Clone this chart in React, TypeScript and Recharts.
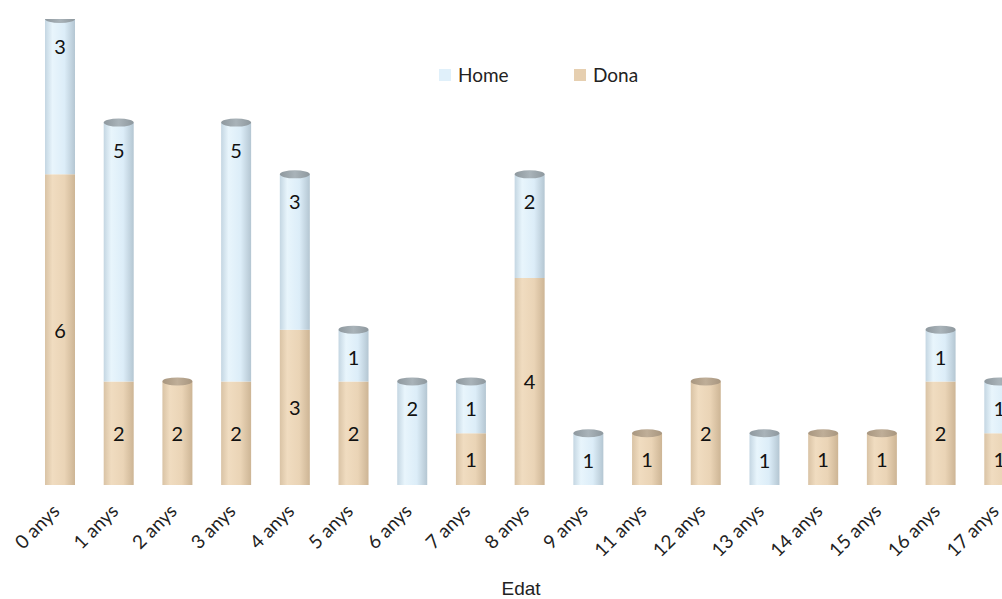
import { BarChart, Bar, XAxis, YAxis, LabelList, Legend, Label } from 'recharts';

const categories = ['0 anys', '1 anys', '2 anys', '3 anys', '4 anys', '5 anys', '6 anys', '7 anys', '8 anys', '9 anys', '11 anys', '12 anys', '13 anys', '14 anys', '15 anys', '16 anys', '17 anys'];
const donaValues = [6, 2, 2, 2, 3, 2, 0, 1, 4, 0, 1, 2, 0, 1, 1, 2, 1];
const homeValues = [3, 5, 0, 5, 3, 1, 2, 1, 2, 1, 0, 0, 1, 0, 0, 1, 1];

const series = [
  { key: 'home', name: 'Home', color: '#e0f0fa' },
  { key: 'dona', name: 'Dona', color: '#e6cfb0' },
];

const data = categories.map((c, i) => ({ name: c, dona: donaValues[i], home: homeValues[i] }));

const FONT = 'Lato, "Open Sans", sans-serif';

// cilindre: cos amb gradient + tapa el·líptica a dalt
const Cylinder = (props: any) => {
  const { x, y, width, height, payload, kind } = props;
  if (!height || height <= 0) return null;
  const rx = width / 2;
  const ry = 4;
  const cx = x + rx;
  const isTop = kind === 'home' || payload.home === 0;
  const isBottom = kind === 'dona' || payload.dona === 0;
  const bottom = y + height;
  const d = isBottom
    ? `M${x},${y} L${x},${bottom} A${rx},${ry} 0 0 0 ${x + width},${bottom} L${x + width},${y} Z`
    : `M${x},${y} L${x},${bottom} L${x + width},${bottom} L${x + width},${y} Z`;
  return (
    <g>
      <path d={d} fill={`url(#grad-${kind})`} />
      {isTop && <ellipse cx={cx} cy={y} rx={rx} ry={ry} fill={`url(#cap-${kind})`} />}
    </g>
  );
};

const AgeTick = (props: any) => {
  const { x, y, payload } = props;
  const ax = x - 3;
  const ay = y + 16;
  return (
    <text
      x={ax}
      y={ay}
      transform={`rotate(-45 ${ax} ${ay})`}
      textAnchor="end"
      dominantBaseline="middle"
      fontFamily={FONT}
      fontSize={19}
      fill="#222"
    >
      {payload.value}
    </text>
  );
};

const renderLabel = (kind: string) => (props: any) => {
  const { x, y, width, height, value } = props;
  if (!value) return null;
  const cy = kind === 'home' ? y + 27 : y + height / 2;
  return (
    <text x={x + width / 2} y={cy} textAnchor="middle" dominantBaseline="central" fontFamily={FONT} fontSize={20} fill="#111">
      {value}
    </text>
  );
};

const renderLegend = () => (
  <div style={{ display: 'flex', fontFamily: FONT, fontSize: 19, color: '#222' }}>
    {series.map((s) => (
      <div key={s.key} style={{ display: 'flex', alignItems: 'center', width: 135 }}>
        <span style={{ display: 'inline-block', width: 12, height: 12, background: s.color, marginRight: 7 }} />
        <span>{s.name}</span>
      </div>
    ))}
  </div>
);

export default function App() {
  return (
    <div style={{ position: 'fixed', left: 0, top: 0, width: 1002, height: 599, overflow: 'hidden', background: '#fff' }}>
      <BarChart width={1040} height={599} data={data} margin={{ top: 19, right: 11, left: 31, bottom: 0 }} barSize={30}>
        <defs>
          <linearGradient id="grad-home" x1="0" y1="0" x2="1" y2="0">
            <stop offset="0%" stopColor="#c4d6e2" />
            <stop offset="25%" stopColor="#e8f5fc" />
            <stop offset="65%" stopColor="#dcedf8" />
            <stop offset="100%" stopColor="#b4c6d2" />
          </linearGradient>
          <linearGradient id="grad-dona" x1="0" y1="0" x2="1" y2="0">
            <stop offset="0%" stopColor="#d9c3a5" />
            <stop offset="25%" stopColor="#f0dcc0" />
            <stop offset="65%" stopColor="#ead4b6" />
            <stop offset="100%" stopColor="#cdb595" />
          </linearGradient>
          <linearGradient id="cap-home" x1="0" y1="0" x2="1" y2="0">
            <stop offset="0%" stopColor="#8e989e" />
            <stop offset="50%" stopColor="#a9b3b9" />
            <stop offset="100%" stopColor="#8e989e" />
          </linearGradient>
          <linearGradient id="cap-dona" x1="0" y1="0" x2="1" y2="0">
            <stop offset="0%" stopColor="#a8967f" />
            <stop offset="50%" stopColor="#bfae98" />
            <stop offset="100%" stopColor="#a8967f" />
          </linearGradient>
        </defs>
        <XAxis dataKey="name" axisLine={false} tickLine={false} interval={0} height={114} tick={<AgeTick />}>
          <Label
            content={(p: any) => (
              <text x={p.viewBox.x + p.viewBox.width / 2 - 9} y={595} textAnchor="middle" fontFamily='"Liberation Sans", Arial, sans-serif' fontSize={19} fill="#222">
                Edat
              </text>
            )}
          />
        </XAxis>
        <YAxis hide domain={[0, 9]} allowDataOverflow />
        <Legend
          layout="horizontal"
          verticalAlign="middle"
          align="center"
          content={renderLegend}
          wrapperStyle={{ position: 'absolute', top: 63, left: 439, width: 300 }}
        />
        <Bar dataKey="dona" name="Dona" stackId="a" fill="#e6cfb0" isAnimationActive={false} shape={(p: any) => <Cylinder {...p} kind="dona" />}>
          <LabelList dataKey="dona" content={renderLabel('dona')} />
        </Bar>
        <Bar dataKey="home" name="Home" stackId="a" fill="#e0f0fa" isAnimationActive={false} shape={(p: any) => <Cylinder {...p} kind="home" />}>
          <LabelList dataKey="home" content={renderLabel('home')} />
        </Bar>
      </BarChart>
    </div>
  );
}
